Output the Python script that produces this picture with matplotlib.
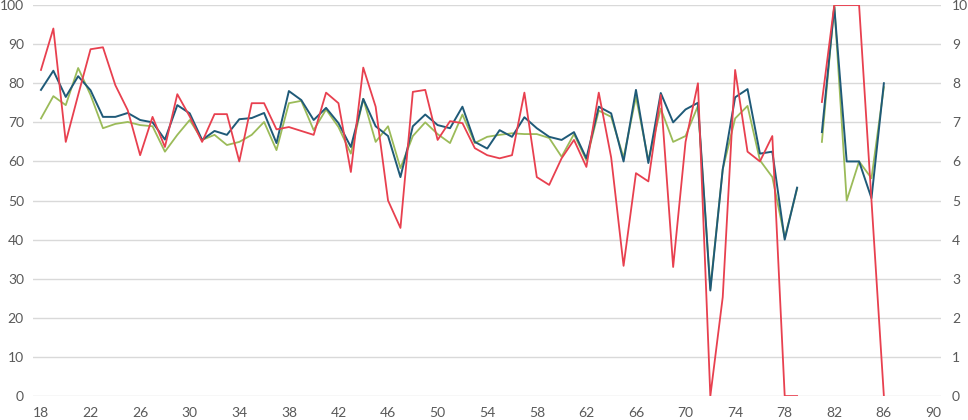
import numpy as np
import matplotlib.pyplot as plt

nan = np.nan
ages = list(range(18, 87))

blue_vals = [78.3, 83.2, 76.5, 81.8, 78.2, 71.4, 71.4, 72.4, 70.6, 70.0,
             65.6, 74.4, 72.3, 65.5, 67.8, 66.8, 70.8, 71.1, 72.4, 64.7,
             78.0, 75.7, 70.6, 73.7, 69.8, 63.7, 76.0, 69.0, 66.5, 56.0,
             69.0, 72.0, 69.3, 68.5, 74.0, 65.0, 63.3, 68.0, 66.3, 71.3,
             68.5, 66.3, 65.5, 67.5, 60.8, 74.0, 72.3, 60.0, 78.3, 59.6,
             77.5, 70.0, 73.3, 75.0, 27.0, 58.0, 76.4, 78.5, 62.0, 62.5,
             40.0, 53.3, nan, 67.5, 99.5, 60.0, 60.0, 50.6, 80.0]

green_vals = [71.0, 76.7, 74.4, 83.9, 77.0, 68.5, 69.6, 70.1, 69.3, 69.0,
              62.5, 66.8, 70.6, 65.5, 66.8, 64.2, 65.0, 66.8, 70.1, 62.9,
              74.9, 75.5, 68.0, 73.3, 68.8, 62.0, 76.0, 65.0, 69.0, 58.3,
              66.5, 70.0, 67.0, 64.7, 72.0, 64.7, 66.3, 66.8, 67.2, 67.0,
              67.0, 66.0, 61.2, 67.0, 60.3, 73.0, 71.4, 61.0, 76.5, 60.3,
              73.5, 65.0, 66.5, 74.2, 27.5, 58.0, 71.0, 74.2, 60.3, 56.0,
              40.5, 53.0, nan, 65.0, 100.0, 50.0, 60.0, 55.7, 79.0]

red_vals = [83.4, 94.0, 65.0, 77.0, 88.7, 89.2, 79.5, 73.1, 61.6, 71.4,
            63.7, 77.2, 71.5, 65.0, 72.1, 72.1, 60.0, 74.9, 74.9, 68.2,
            68.8, 67.8, 66.8, 77.6, 74.9, 57.3, 84.0, 74.0, 50.0, 43.0,
            77.8, 78.3, 65.5, 70.3, 69.8, 63.4, 61.6, 60.8, 61.6, 77.6,
            56.0, 54.0, 60.8, 65.5, 58.6, 77.6, 61.0, 33.3, 57.0, 54.9,
            77.0, 33.0, 65.0, 80.0, 0.0, 25.3, 83.4, 62.5, 60.0, 66.5,
            0.0, 0.0, nan, 75.2, 100.0, 100.0, 100.0, 50.0, 0.0]

x_ticks = list(range(18, 91, 4))
left_ticks = list(range(0, 101, 10))
right_ticks = list(range(0, 11))

plt.rcParams['font.family'] = ['Lato', 'DejaVu Sans']

fig = plt.figure(figsize=(9.68, 4.2), dpi=100)
ax = fig.add_axes([0.034, 0.057, 0.938, 0.931])

# drawing order: green under blue under red
ax.plot(ages, green_vals, color='#9bbb59', lw=1.3, zorder=3)
ax.plot(ages, blue_vals, color='#1f5a78', lw=1.4, zorder=4)
ax.plot(ages, red_vals, color='#e8404f', lw=1.3, zorder=5)

ax.set_xlim(17.35, 90.6)
ax.set_ylim(0, 100)
ax.set_xticks(x_ticks)
ax.set_yticks(left_ticks)
ax.grid(axis='y', color='#d9d9d9', lw=1)
ax.set_axisbelow(True)
for s in ax.spines.values():
    s.set_visible(False)
ax.tick_params(length=0, labelsize=10, labelcolor='#595959')
ax.tick_params(axis='y', pad=6.5)
ax.tick_params(axis='x', pad=8)

ax2 = ax.twinx()
ax2.set_ylim(0, 10)
ax2.set_yticks(right_ticks)
for s in ax2.spines.values():
    s.set_visible(False)
ax2.tick_params(length=0, labelsize=10, labelcolor='#595959', pad=8)

fig.savefig('out.png', dpi=100)
